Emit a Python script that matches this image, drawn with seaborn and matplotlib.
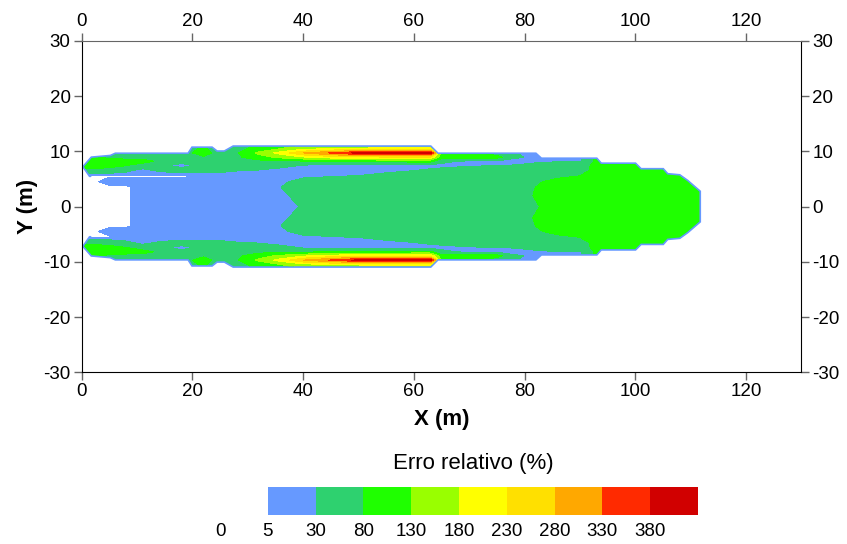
import numpy as np
import matplotlib
matplotlib.use("Agg")
import matplotlib.pyplot as plt
from matplotlib.patches import Polygon
from matplotlib.colors import ListedColormap, BoundaryNorm
import matplotlib.cm as cm
import seaborn as sns

sns.set_style("ticks")
plt.rcParams['font.family'] = ['Liberation Sans', 'DejaVu Sans']
plt.rcParams['axes.unicode_minus'] = False
plt.rcParams['text.color'] = 'black'
plt.rcParams['axes.labelcolor'] = 'black'
plt.rcParams['xtick.labelcolor'] = 'black'
plt.rcParams['ytick.labelcolor'] = 'black'

# grid nodes (m), upper half only, mirrored about y = 0
x_nodes = [0, 2, 5, 8, 11, 14, 18, 22, 25, 28, 32, 36, 40, 45, 50, 55, 60, 63, 65,
           70, 75, 80, 83, 86, 90, 93, 100, 112]
y_nodes = [0, 2, 3.5, 4.5, 5.5, 6.5, 7.5, 8.2, 8.9, 9.7, 10.5, 11.5]

# relative error (%), one row per y node
err_y00 = [0, 0, 0, 0, 20, 15, 15, 15, 15, 15, 15, 18, 33, 55, 55, 55, 55, 55, 55, 55, 55, 62, 82, 105, 105, 105, 105, 105]
err_y20 = [0, 0, 0, 0, 20, 15, 15, 15, 15, 15, 15, 22, 45, 55, 55, 55, 55, 55, 55, 55, 55, 68, 92, 105, 105, 105, 105, 105]
err_y35 = [0, 0, 0, 0, 18, 15, 15, 15, 15, 15, 15, 30, 55, 55, 55, 55, 55, 55, 55, 55, 55, 65, 88, 105, 105, 105, 105, 105]
err_y45 = [0, 0, 15, 15, 15, 15, 15, 15, 15, 15, 15, 24, 42, 52, 55, 55, 55, 55, 55, 55, 55, 55, 78, 100, 105, 105, 105, 105]
err_y55 = [0, 3, 3, 3, 3, 3, 3, 4, 10, 3, 15, 18, 24, 28, 33, 38, 42, 46, 48, 52, 55, 55, 60, 68, 82, 100, 105, 105]
err_y65 = [70, 70, 55, 40, 15, 35, 50, 45, 40, 32, 28, 20, 12, 8, 3, 25, 30, 34, 38, 45, 50, 52, 55, 55, 55, 100, 105, 105]
err_y75 = [100, 100, 100, 85, 60, 40, 15, 40, 50, 55, 45, 40, 30, 20, 18, 20, 22, 22, 22, 26, 28, 32, 45, 55, 55, 95, 105, 105]
err_y82 = [100, 105, 105, 105, 100, 70, 55, 55, 60, 65, 65, 70, 75, 80, 88, 92, 95, 95, 40, 22, 22, 25, 25, 25, 25, 90, 105, 105]
err_y89 = [90, 90, 70, 60, 60, 60, 60, 70, 55, 70, 110, 140, 170, 200, 210, 215, 215, 215, 100, 100, 95, 28, 25, 25, 25, 90, 105, 105]
err_y97 = [50, 50, 50, 50, 50, 50, 50, 110, 50, 75, 140, 200, 280, 335, 395, 410, 415, 415, 120, 90, 60, 20, 20, 20, 20, 90, 105, 105]
err_y105 = [50, 50, 50, 50, 50, 50, 50, 90, 45, 60, 100, 130, 160, 175, 185, 190, 190, 190, 60, 50, 40, 20, 20, 20, 20, 90, 105, 105]
err_y115 = [50, 50, 50, 50, 50, 50, 50, 80, 45, 55, 90, 110, 120, 120, 120, 120, 120, 120, 60, 50, 40, 20, 20, 20, 20, 90, 105, 105]

# outline of the mapped area (upper half, left to right)
edge_x = [1.5, 0.4, 1.8, 5.2, 6.1, 19.3, 20.0, 23.5, 24.4, 25.8, 27.4, 63.0, 64.3, 82.0, 83.0,
          93.0, 93.8, 100.0, 101.0, 105.0, 105.8, 108.0, 109.4, 111.6, 111.6]
edge_y = [5.6, 7.2, 8.8, 9.1, 9.5, 9.5, 10.6, 10.6, 9.9, 9.9, 10.8, 10.8, 9.5, 9.5, 8.6,
          8.6, 7.7, 7.7, 6.7, 6.7, 5.8, 5.6, 4.6, 2.7, 0.0]

levels = [0, 5, 30, 80, 130, 180, 230, 280, 330, 380, 430]
colors = ['#6699ff', '#2ed16f', '#1fff00', '#99ff00', '#ffff00',
          '#ffe000', '#ffa800', '#ff2a00', '#d10000']

# build full grid
half = np.array([err_y00, err_y20, err_y35, err_y45, err_y55, err_y65, err_y75,
                 err_y82, err_y89, err_y97, err_y105, err_y115], dtype=float)
yn = np.array(y_nodes)
y_full = np.concatenate([-yn[::-1], yn[1:]])
z_full = np.vstack([half[::-1], half[1:]])

ex = np.array(edge_x)
ey = np.array(edge_y)
rim_x = np.concatenate([ex, ex[-2::-1]])
rim_y = np.concatenate([ey, -ey[-2::-1]])

fig = plt.figure(figsize=(8.47, 5.44), dpi=100)
ax = fig.add_axes([0.0965, 0.3156, 0.8495, 0.6094])

cs = ax.contourf(x_nodes, y_full, z_full, levels=levels[1:-1] + [1000],
                 colors=colors, zorder=2)
clip = Polygon(np.column_stack([rim_x, rim_y]), closed=True, transform=ax.transData)
cs.set_clip_path(clip)
ax.plot(rim_x, rim_y, color='#6699ff', lw=2.4, zorder=1, solid_joinstyle='miter')

ax.set_xlim(0, 130)
ax.set_ylim(-30, 30)
ax.set_xticks(range(0, 121, 20))
ax.set_yticks(range(-30, 31, 10))
ax.tick_params(top=True, right=True, labeltop=True, labelright=True,
               direction='out', length=6, width=1, color='#666666',
               labelsize=13.5, pad=2)
for s in ['left', 'bottom', 'right']:
    ax.spines[s].set_color('black')
ax.spines['top'].set_color('#666666')
ax.set_xlabel("X (m)", fontsize=16, fontweight='bold', labelpad=6)
ax.set_ylabel("Y (m)", fontsize=16, fontweight='bold', labelpad=4)

# colour scale (first box white, 0-5 not drawn)
cax = fig.add_axes([220 / 847, 1 - 515 / 544, 478 / 847, 28 / 544])
cmap = ListedColormap(['white'] + colors)
norm = BoundaryNorm(levels, cmap.N)
cb = fig.colorbar(cm.ScalarMappable(norm=norm, cmap=cmap), cax=cax,
                  orientation='horizontal', ticks=levels[:-1])
cb.outline.set_visible(False)
cb.ax.tick_params(length=0, labelsize=13.5, pad=6)
cb.ax.minorticks_off()
fig.text(473 / 847, 1 - 463 / 544, "Erro relativo (%)", ha='center', va='center', fontsize=16)

plt.savefig("out.png", dpi=100)
